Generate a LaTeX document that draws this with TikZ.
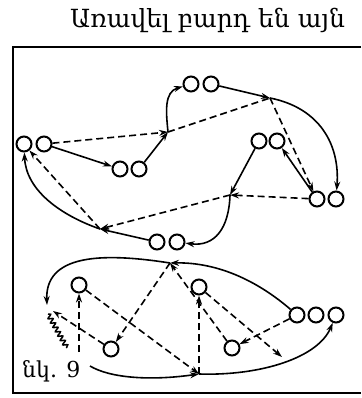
\documentclass[tikz,border=0pt]{standalone}
\usepackage{fontspec}
\setmainfont{DejaVu Serif}
\usetikzlibrary{arrows.meta,decorations.pathmorphing}
\begin{document}
\begin{tikzpicture}[x=1pt,y=-1pt,
  pl/.style={circle,draw,line width=2pt,minimum size=15pt,inner sep=0pt},
  mv/.style={line width=1.6pt,-{Stealth[length=9pt,width=6pt]}},
  ps/.style={line width=1.6pt,dash pattern=on 7pt off 4pt,-{Stealth[length=9pt,width=6pt]}},
  pd/.style={line width=1.6pt,dash pattern=on 7pt off 4pt},
  zz/.style={line width=1.5pt,decorate,decoration={snake,amplitude=2.2pt,segment length=5pt}},
  txt/.style={anchor=base west,inner sep=0pt}
]
\useasboundingbox (0,0) rectangle (361,398);
% header and frame
\node[txt,font=\fontsize{25}{28}\selectfont] (hdr) at (70,28) {Առավել բարդ են այն};
\draw[line width=1.6pt] (361,47) -- (13,47) -- (13,393) -- (361,393);
\node[txt,font=\fontsize{22}{26}\selectfont] (fig) at (22,377) {նկ. 9};
% players
\node[pl] (A1) at (24,144) {};
\node[pl] (A2) at (44,144) {};
\node[pl] (B1) at (120,169) {};
\node[pl] (B2) at (139,169) {};
\node[pl] (C1) at (191,84) {};
\node[pl] (C2) at (211,84) {};
\node[pl] (D1) at (259,141) {};
\node[pl] (D2) at (277,141) {};
\node[pl] (E1) at (317,199) {};
\node[pl] (E2) at (336,199) {};
\node[pl] (F1) at (157,242) {};
\node[pl] (F2) at (177,242) {};
\node[pl] (G) at (79,285) {};
\node[pl] (H) at (111,349) {};
\node[pl] (I) at (199,287) {};
\node[pl] (J) at (232,348) {};
\node[pl] (K1) at (297,315) {};
\node[pl] (K2) at (316,315) {};
\node[pl] (K3) at (336,315) {};
% junction points
\coordinate (P1) at (168,132);
\coordinate (P2) at (270,98);
\coordinate (P3) at (230,195);
\coordinate (P4) at (100,229);
\coordinate (P5) at (170,263);
\coordinate (P6) at (47,305);
\coordinate (P6b) at (53,311);
\coordinate (P7) at (199,374);
\coordinate (Z1) at (48,314);
\coordinate (Z2) at (67,348);
\coordinate (Gs) at (79,352);
\coordinate (Q) at (282,357);
\coordinate (N9) at (90,366);
% upper group
\draw[mv] (A2) -- (B1);
\draw[ps] (A2) -- (P1);
\draw[mv] (B2) -- (P1);
\draw[mv] (P1) .. controls (166,112) and (164,92) .. (C1);
\draw[mv] (C2) -- (P2);
\draw[pd] (P1) -- (P2);
\draw[ps] (P2) -- (E1);
\draw[mv] (P2) .. controls (320,108) and (340,145) .. (E2);
\draw[mv] (D1) -- (P3);
\draw[mv] (E1) -- (D2);
\draw[ps] (E1) -- (P3);
\draw[ps] (P3) -- (P4);
\draw[mv] (P3) .. controls (229,228) and (215,247) .. (F2);
\draw[mv] (F1) -- (P4);
\draw[mv] (P4) .. controls (60,215) and (26,190) .. (A1);
\draw[ps] (P4) -- (A1.-50);
% lower group
\draw[mv] (K1) .. controls (260,283) and (220,262) .. (P5);
\draw[mv] (P5) .. controls (100,252) and (45,255) .. (P6);
\draw[zz] (Z1) -- (Z2);
\draw[ps] (P5) -- (H);
\draw[ps] (H) -- (P6b);
\draw[ps] (Gs) -- (G);
\draw[ps] (G) -- (P7);
\draw[ps] (P7) -- (I);
\draw[ps] (J) -- (P5);
\draw[ps] (I) -- (Q);
\draw[ps] (K1) -- (J);
\draw[mv] (N9) .. controls (110,378) and (150,381) .. (P7);
\draw[mv] (P7) .. controls (260,376) and (318,358) .. (K3);
\end{tikzpicture}
\end{document}
